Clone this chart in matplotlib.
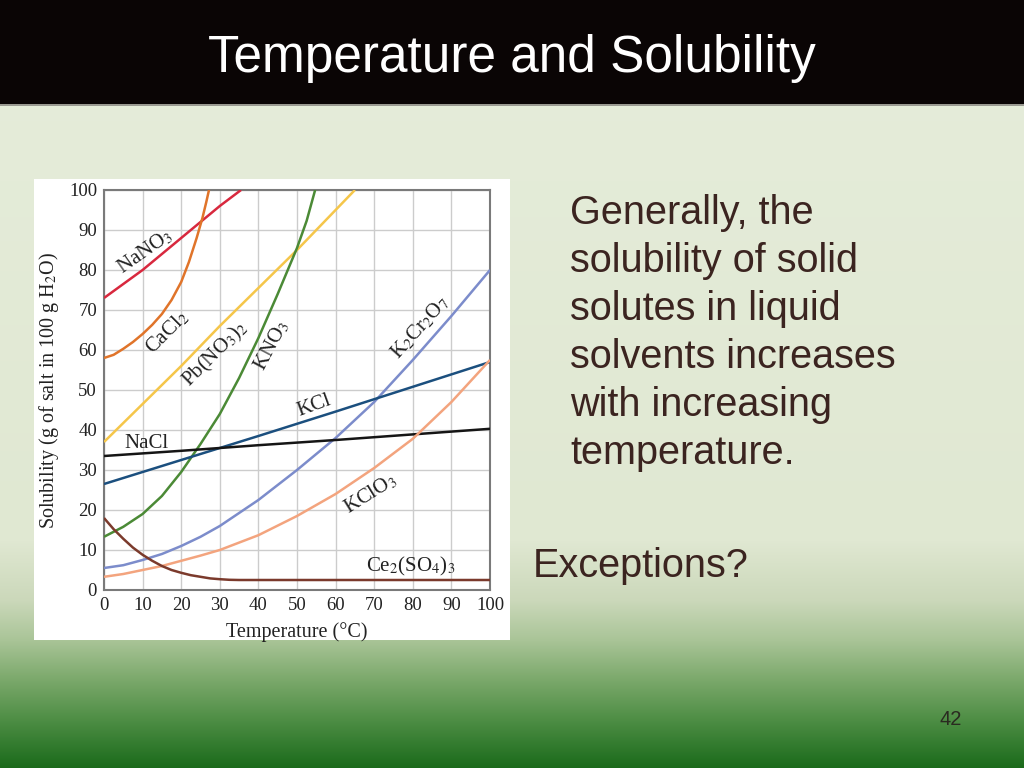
import matplotlib
matplotlib.use("Agg")
import matplotlib.pyplot as plt
from matplotlib.patches import Rectangle
import numpy as np

# Slide size in pixels (saved at 100 dpi)
W, H = 1024, 768

# ---- data (g of salt per 100 g water) ----
temp_nano3 = [0, 10, 20, 30, 35.5]
sol_nano3 = [73, 80, 88, 96, 100]

temp_cacl2 = [0, 2.5, 5, 7.5, 10, 12.5, 15, 17.5, 20, 22, 24, 25.5, 26.5, 27.2]
sol_cacl2 = [58, 58.8, 60.3, 62, 64, 66.3, 69, 72.5, 77, 82, 88, 93, 97, 100]

temp_pbno3 = [0, 10, 20, 30, 40, 50, 60, 65]
sol_pbno3 = [37, 46.5, 56, 66, 75.5, 85, 95, 100]

temp_kno3 = [0, 5, 10, 15, 20, 25, 30, 35, 40, 45, 50, 52.5, 54.7]
sol_kno3 = [13.3, 15.8, 19, 23.5, 29.5, 36.5, 44, 53, 63, 74, 85.5, 92.3, 100]

temp_k2cr2o7 = [0, 5, 10, 15, 20, 25, 30, 40, 50, 60, 70, 80, 90, 100]
sol_k2cr2o7 = [5.5, 6.2, 7.5, 9, 11, 13.3, 16, 22.5, 30, 38, 47, 57.5, 68.5, 80]

temp_kcl = [0, 20, 40, 60, 80, 100]
sol_kcl = [26.5, 32.5, 38.5, 44.6, 50.8, 57]

temp_nacl = [0, 20, 40, 60, 80, 100]
sol_nacl = [33.5, 34.8, 36.2, 37.5, 38.9, 40.3]

temp_kclo3 = [0, 5, 10, 15, 20, 25, 30, 40, 50, 60, 70, 80, 90, 100]
sol_kclo3 = [3.3, 4, 5, 6, 7.3, 8.6, 10, 13.7, 18.5, 24, 30.5, 37.8, 47, 57.5]

temp_ce2so43 = [0, 2.5, 5, 7.5, 10, 12.5, 15, 17.5, 20, 22.5, 25, 27.5, 30, 32.5, 35, 40, 60, 80, 100]
sol_ce2so43 = [18, 15.2, 12.8, 10.6, 8.8, 7.3, 6.0, 5.0, 4.3, 3.7, 3.3, 2.9, 2.7, 2.55, 2.5, 2.5, 2.5, 2.5, 2.5]

x_ticks = [0, 10, 20, 30, 40, 50, 60, 70, 80, 90, 100]
y_ticks = [0, 10, 20, 30, 40, 50, 60, 70, 80, 90, 100]

title = "Temperature and Solubility"
body_lines = ["Generally, the", "solubility of solid", "solutes in liquid",
              "solvents increases", "with increasing", "temperature."]
exceptions = "Exceptions?"
page_no = "42"

# (temps, values, colour, label, label_x, label_y, rotation)
series = [
    (temp_nano3, sol_nano3, "#d8283e", "NaNO$_3$", 10.6, 84.5, 35),
    (temp_cacl2, sol_cacl2, "#e0742a", "CaCl$_2$", 16.3, 64.5, 45),
    (temp_pbno3, sol_pbno3, "#f5c64a", "Pb(NO$_3$)$_2$", 29, 59, 45),
    (temp_kno3, sol_kno3, "#4b8a36", "KNO$_3$", 43.5, 61, 62),
    (temp_k2cr2o7, sol_k2cr2o7, "#7c8ccb", "K$_2$Cr$_2$O$_7$", 82, 65.5, 48),
    (temp_kcl, sol_kcl, "#1b4f7e", "KCl", 54.4, 46, 20),
    (temp_nacl, sol_nacl, "#151515", "NaCl", 11, 36.7, 0),
    (temp_kclo3, sol_kclo3, "#f3a47e", "KClO$_3$", 69, 24, 32),
    (temp_ce2so43, sol_ce2so43, "#7b3a2c", "Ce$_2$(SO$_4$)$_3$", 79.5, 6, 0),
]

plt.rcParams['mathtext.fontset'] = 'stix'


def fx(px):
    return px / W


def fy(py):
    return 1 - py / H


fig = plt.figure(figsize=(W / 100, H / 100), dpi=100)

# background gradient (pale at the top, deep green at the bottom)
ax_bg = fig.add_axes([0, 0, 1, 1], zorder=-10)
stops_px = [0, 540, 600, 640, 680, 720, 768]
stops_rgb = np.array([[230, 237, 219], [224, 232, 210], [203, 216, 186],
                      [169, 196, 151], [122, 168, 106], [77, 141, 68],
                      [26, 106, 26]]) / 255.0
rows = np.arange(H)
grad = np.stack([np.interp(rows, stops_px, stops_rgb[:, c]) for c in range(3)], axis=-1)
ax_bg.imshow(grad[:, None, :], aspect='auto', extent=[0, 1, 0, 1])
ax_bg.axis('off')

# black title bar
fig.patches.append(Rectangle((0, fy(104)), 1, 104 / H, transform=fig.transFigure,
                             facecolor="#0a0505", edgecolor='none', zorder=-5))
fig.patches.append(Rectangle((0, fy(106)), 1, 2 / H, transform=fig.transFigure,
                             facecolor="#9a9a92", edgecolor='none', zorder=-5))
fig.text(0.5, fy(72), title, color='white', fontsize=37, family='Liberation Sans',
         ha='center', va='baseline')

# white panel behind the chart
fig.patches.append(Rectangle((fx(34), fy(640)), 476 / W, 461 / H, transform=fig.transFigure,
                             facecolor='white', edgecolor='none', zorder=-4))

# the chart itself
ax = fig.add_axes([fx(104), fy(590), 386 / W, 400 / H])
for temps, vals, col, lab, lx, ly, rot in series:
    ax.plot(temps, vals, color=col, lw=1.8, solid_capstyle='butt', zorder=3)
    ax.text(lx, ly, lab, fontsize=15, family='Liberation Serif', color='#222222',
            rotation=rot, ha='center', va='center', rotation_mode='anchor', zorder=4)

ax.set_xlim(0, 100)
ax.set_ylim(0, 100)
ax.set_xticks(x_ticks)
ax.set_yticks(y_ticks)
ax.set_xticklabels([str(t) for t in x_ticks], family='Liberation Serif', fontsize=13.5)
ax.set_yticklabels([str(t) for t in y_ticks], family='Liberation Serif', fontsize=13.5)
ax.tick_params(axis='both', length=0, colors='#222222')
ax.tick_params(axis='x', pad=5)
ax.tick_params(axis='y', pad=5)
ax.grid(True, color='#cccccc', lw=1.0, zorder=0)
ax.set_axisbelow(True)
for sp in ax.spines.values():
    sp.set_color('#7a7a7a')
    sp.set_linewidth(1.5)
ax.set_xlabel("Temperature (°C)", family='Liberation Serif', fontsize=14.5, color='#222222',
              labelpad=6)
ax.set_ylabel("Solubility (g of salt in 100 g H$_2$O)", family='Liberation Serif',
              fontsize=14.5, color='#222222', labelpad=6)

# slide text on the right
text_col = "#3b2420"
for i, line in enumerate(body_lines):
    fig.text(fx(570), fy(224 + 48 * i), line, color=text_col, fontsize=28.5,
             family='Liberation Sans', ha='left', va='baseline')
fig.text(fx(533), fy(577), exceptions, color=text_col, fontsize=28.5,
         family='Liberation Sans', ha='left', va='baseline')
fig.text(fx(951), fy(725), page_no, color="#2a2a20", fontsize=14.5,
         family='Liberation Sans', ha='center', va='baseline')

fig.savefig("out.png", dpi=100)
